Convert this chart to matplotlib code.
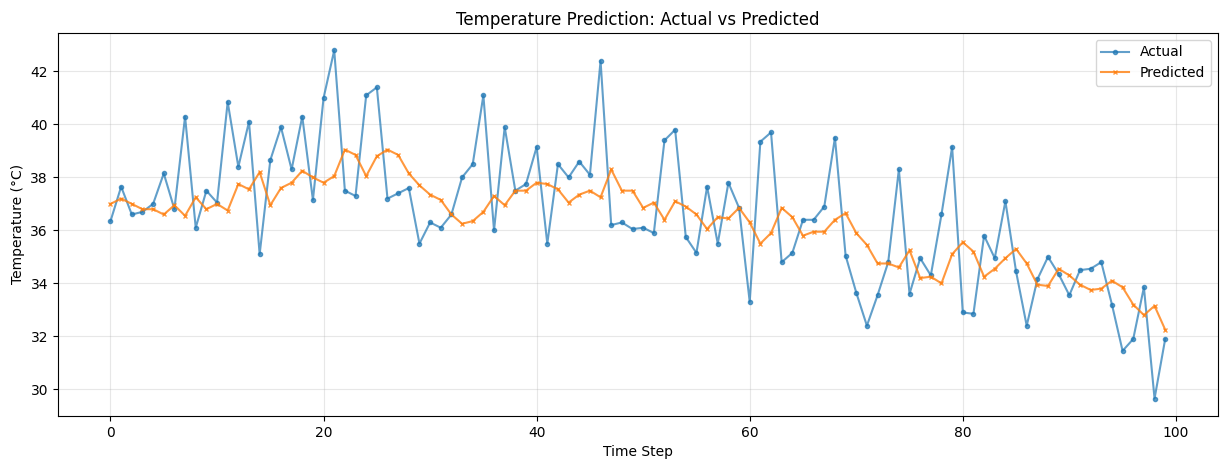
import matplotlib
matplotlib.use("Agg")
import matplotlib.pyplot as plt
import numpy as np

actual = [36.35, 37.65, 36.6, 36.7, 37.0, 38.15, 36.8, 40.3, 36.1, 37.5,
          37.05, 40.85, 38.4, 40.1, 35.1, 38.65, 39.9, 38.3, 40.3, 37.15,
          41.0, 42.8, 37.5, 37.3, 41.1, 41.4, 37.2, 37.4, 37.6, 35.5,
          36.3, 36.1, 36.6, 38.0, 38.5, 41.1, 36.0, 39.9, 37.5, 37.75,
          39.15, 35.5, 38.5, 38.0, 38.6, 38.1, 42.4, 36.2, 36.3, 36.05,
          36.1, 35.9, 39.4, 39.8, 35.75, 35.15, 37.65, 35.5, 37.8, 36.85,
          33.3, 39.35, 39.7, 34.8, 35.15, 36.4, 36.4, 36.9, 39.5, 35.05,
          33.65, 32.4, 33.55, 34.8, 38.3, 33.6, 34.95, 34.3, 36.6, 39.15,
          32.9, 32.85, 35.8, 34.95, 37.1, 34.45, 32.4, 34.15, 35.0, 34.35,
          33.55, 34.5, 34.55, 34.8, 33.2, 31.45, 31.9, 33.85, 29.65, 31.9]

predicted = [37.0, 37.2, 37.0, 36.8, 36.8, 36.6, 36.95, 36.55, 37.25, 36.8,
             37.0, 36.75, 37.75, 37.55, 38.2, 36.95, 37.6, 37.8, 38.25, 38.0,
             37.8, 38.05, 39.05, 38.85, 38.05, 38.8, 39.05, 38.85, 38.15, 37.7,
             37.35, 37.15, 36.6, 36.25, 36.35, 36.7, 37.3, 36.95, 37.5, 37.5,
             37.8, 37.75, 37.55, 37.05, 37.35, 37.5, 37.25, 38.3, 37.5, 37.5,
             36.85, 37.05, 36.4, 37.1, 36.9, 36.6, 36.05, 36.5, 36.45, 36.85,
             36.3, 35.5, 35.9, 36.85, 36.5, 35.8, 35.95, 35.95, 36.4, 36.65,
             35.9, 35.45, 34.75, 34.75, 34.6, 35.25, 34.2, 34.25, 34.0, 35.1,
             35.55, 35.2, 34.25, 34.55, 34.95, 35.3, 34.75, 33.95, 33.9, 34.55,
             34.3, 33.95, 33.75, 33.8, 34.1, 33.85, 33.2, 32.8, 33.15, 32.25]

steps = np.arange(len(actual))

fig, ax = plt.subplots(figsize=(12.29, 4.7), dpi=100)
ax.plot(steps, actual, marker='o', markersize=3, label='Actual', alpha=0.7)
ax.plot(steps, predicted, marker='x', markersize=3, label='Predicted', alpha=0.8)
ax.set_title('Temperature Prediction: Actual vs Predicted')
ax.set_xlabel('Time Step')
ax.set_ylabel('Temperature (°C)')
ax.legend()
ax.grid(True, alpha=0.3)
plt.subplots_adjust(left=0.047, right=0.991, top=0.93, bottom=0.115)
plt.savefig('out.png', dpi=100)
